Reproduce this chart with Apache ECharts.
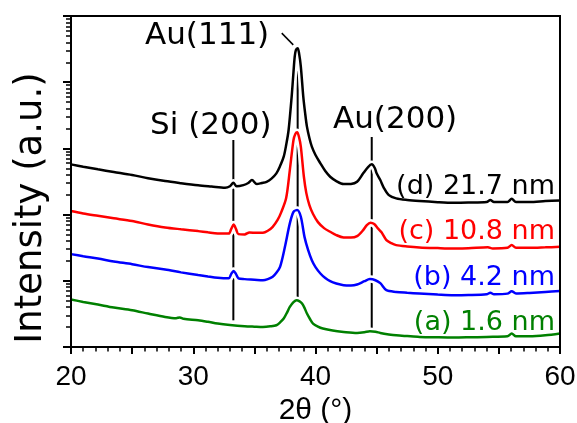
<!DOCTYPE html>
<html><head><meta charset="utf-8">
<script src="https://cdn.jsdelivr.net/npm/echarts@6/dist/echarts.min.js"></script>
<style>html,body{margin:0;padding:0;background:#fff}#c{width:577px;height:423px}</style>
</head><body><div id="c"></div>
<script>
// ---- data (2θ in degrees, intensity in a.u., log scale) ----
const xTickLabels = [20, 30, 40, 50, 60];
const decadeTicks = [1, 10, 100, 1000, 10000, 100000];
const minorMultipliers = [2, 3, 4, 5, 6, 7, 8, 9];
const curveNames = ['(d) 21.7 nm', '(c) 10.8 nm', '(b) 4.2 nm', '(a) 1.6 nm'];
const curveColors = ['#000000', '#ff0000', '#0000ff', '#008000'];

const curveD = [[20.0,574],[21.0,530],[22.2,483],[23.5,440],[25.0,396],[26.3,355],[27.7,321],[29.0,298],[30.4,277],[31.5,265],[32.6,254],[33.0,268],[33.28,303],[33.55,268],[34.1,279],[34.5,300],[34.8,333],[35.2,289],[35.6,300],[36.0,313],[36.4,350],[36.8,420],[37.1,540],[37.4,749],[37.6,1125],[37.8,1897],[38.05,6053],[38.2,14320],[38.3,24380],[38.4,30820],[38.54,32680],[38.65,27750],[38.8,17220],[39.0,6053],[39.15,3433],[39.3,2130],[39.5,1436],[39.7,1061],[40.0,794],[40.4,595],[40.8,455],[41.2,373],[41.7,321],[42.3,289],[42.9,290],[43.4,313],[43.9,420],[44.3,523],[44.6,574],[44.85,506],[45.0,420],[45.3,333],[45.6,252],[46.0,197],[46.6,176],[47.5,166],[48.5,160],[50.0,154],[51.3,151],[52.5,152],[54.0,155],[54.3,166],[54.6,155],[55.7,155],[56.05,173],[56.4,155],[57.5,155],[58.8,160],[60.0,164]];
const curveC = [[20.0,113],[21.0,104],[22.2,95.9],[23.5,88],[25.0,79.8],[26.3,71],[27.7,64.0],[29.0,60],[30.4,56.3],[31.2,54],[32.0,52.0],[32.9,51.7],[33.1,60.4],[33.3,70.6],[33.5,60.4],[33.7,50.7],[34.2,50.2],[34.6,53.8],[35.2,53],[35.7,53.1],[36.1,57],[36.5,65.4],[36.9,83],[37.2,109],[37.6,178],[37.9,471],[38.2,1340],[38.35,1652],[38.5,1753],[38.65,1487],[38.8,1061],[39.05,373],[39.25,211],[39.5,139],[39.8,102],[40.2,77.0],[40.7,62.5],[41.2,55.0],[41.7,49],[42.3,45.2],[42.9,45],[43.4,47.3],[43.9,58.3],[44.2,69.4],[44.5,75.2],[44.8,72],[45.1,62],[45.4,54],[45.8,41.1],[46.2,37],[46.6,34.6],[47.5,33],[48.5,31.9],[50.0,31.2],[51.3,30.8],[52.5,31],[54.1,32.2],[54.5,30.8],[55.7,31.5],[56.05,34.6],[56.4,31.5],[57.5,31.5],[58.8,32],[60.0,32.6]];
const curveB = [[20.0,25.3],[21.0,23.5],[22.2,21.7],[23.5,19.6],[25.0,17.8],[26.3,16.1],[27.7,14.8],[29.0,13.4],[30.4,12.2],[31.2,11.6],[32.0,11.1],[32.9,10.9],[33.1,12.6],[33.3,14.1],[33.5,12.6],[33.7,10.9],[34.2,10.6],[35.0,10.4],[35.7,10.2],[36.1,10.6],[36.5,11.5],[36.8,13.2],[37.1,16.2],[37.5,32.6],[37.9,73.6],[38.2,110],[38.5,117],[38.8,92.7],[39.1,46.1],[39.4,29.0],[39.7,20.5],[40.0,16.1],[40.4,12.9],[40.8,11],[41.2,9.86],[41.7,9.1],[42.3,8.58],[42.9,8.5],[43.4,8.79],[44.0,9.86],[44.45,10.6],[44.9,10.2],[45.3,9.2],[45.8,7.21],[46.6,6.79],[47.5,6.6],[48.5,6.43],[50.0,6.2],[51.3,6.06],[52.5,6.1],[54.0,6.27],[54.3,6.6],[54.6,6.27],[55.7,6.4],[56.05,6.96],[56.4,6.43],[57.5,6.56],[58.8,6.8],[60.0,7.03]];
const curveA = [[20.0,5.21],[21.0,4.8],[22.2,4.38],[23.5,3.95],[25.0,3.59],[26.3,3.2],[27.7,2.84],[28.6,2.72],[28.9,2.80],[29.2,2.67],[30.4,2.53],[31.2,2.4],[32.0,2.26],[33.0,2.15],[34.2,2.06],[35.0,2.03],[35.7,2.01],[36.3,2.05],[36.8,2.13],[37.1,2.35],[37.4,2.69],[37.7,3.4],[37.9,4.03],[38.2,4.75],[38.45,5.09],[38.7,4.9],[38.9,4.54],[39.1,3.9],[39.3,3.20],[39.55,2.65],[39.8,2.26],[40.2,2.03],[40.6,1.90],[41.4,1.77],[42.3,1.69],[43.4,1.63],[44.0,1.67],[44.45,1.73],[44.9,1.7],[45.3,1.63],[46.0,1.55],[46.6,1.50],[47.5,1.46],[48.5,1.42],[50.0,1.40],[51.3,1.39],[52.5,1.40],[54.0,1.42],[55.7,1.45],[56.05,1.60],[56.4,1.45],[57.5,1.45],[58.8,1.5],[60.0,1.60]];
const curves = [curveD, curveC, curveB, curveA];

const peakLabels = ['Si (200)', 'Au(111)', 'Au(200)'];
const refPeaks = [33.28, 38.54, 44.6];
const refTop = [1340, 16450, 1487];
const refBottom = [2.53, 5.65, 1.92];
const au111Leader = [[37.24, 55100], [38.18, 36650]];

// ---- build ----
const minorLogPositions = [];
for (let d = 0; d < 5; d++) for (const k of minorMultipliers) minorLogPositions.push(d + Math.log10(k));
const decadeLogPositions = decadeTicks.map(Math.log10);

const series = [];
refPeaks.forEach((p, i) => {
  series.push({type:'line', yAxisIndex:0, data:[[p, refTop[i]], [p, refBottom[i]]], symbol:'none',
    lineStyle:{color:'#000', width:2}, z:1, silent:true, animation:false});
});
series.push({type:'line', yAxisIndex:0, data:au111Leader, symbol:'none',
  lineStyle:{color:'#000', width:1.5}, z:1, silent:true, animation:false});
curves.forEach((c, i) => {
  series.push({type:'line', yAxisIndex:0, data:c, symbol:'none', smooth:0.3,
    lineStyle:{color:'#ffffff', width:7.5}, z:2, silent:true, animation:false});
});
curves.forEach((c, i) => {
  series.push({type:'line', name:curveNames[i], yAxisIndex:0, data:c, symbol:'none', smooth:0.3,
    lineStyle:{color:curveColors[i], width:2.5}, z:3, silent:true, animation:false});
});

const peakLabelPos = [[150, 125.5], [145, 36], [333, 120]];
const curveLabelY = [186.5, 232, 278, 323];
const graphic = [];
peakLabels.forEach((t, i) => graphic.push({type:'text', x:peakLabelPos[i][0], y:peakLabelPos[i][1], z:20,
  style:{text:t, fontFamily:'DejaVu Sans', fontSize:31, fill:'#000', align:'left', verticalAlign:'middle'}}));
curveNames.forEach((t, i) => graphic.push({type:'text', x:555, y:curveLabelY[i], z:20,
  style:{text:t, fontFamily:'DejaVu Sans', fontSize:27, fill:curveColors[i], align:'right', verticalAlign:'middle'}}));
graphic.push({type:'text', x:31, y:208, rotation:Math.PI/2, z:20,
  style:{text:'Intensity (a.u.)', fontFamily:'DejaVu Sans', fontSize:37, fill:'#000', align:'center', verticalAlign:'middle'}});

const chart = echarts.init(document.getElementById('c'), null, {renderer:'canvas'});
chart.setOption({
  animation:false,
  backgroundColor:'#ffffff',
  grid:{left:71, right:17, top:16, bottom:76, outerBoundsMode:'none', containLabel:false,
    show:true, borderColor:'#000', borderWidth:2, backgroundColor:'transparent', z:10},
  xAxis:{type:'value', min:20, max:60, interval:5, position:'bottom', z:10,
    axisLine:{show:true, onZero:false, lineStyle:{color:'#000', width:2}},
    axisTick:{show:true, inside:false, length:7, lineStyle:{color:'#000', width:2}},
    minorTick:{show:true, splitNumber:5, length:4.5, lineStyle:{color:'#000', width:1.5}},
    axisLabel:{customValues:xTickLabels, fontFamily:'Liberation Sans', fontSize:28, color:'#000', margin:16},
    splitLine:{show:false}, minorSplitLine:{show:false},
    name:'2θ (°)', nameLocation:'middle', nameGap:48,
    nameTextStyle:{fontFamily:'Liberation Sans', fontSize:30, color:'#000'}},
  yAxis:[
    {type:'log', logBase:10, min:1, max:100000, position:'left', z:10,
      axisLine:{show:true, onZero:false, lineStyle:{color:'#000', width:2}},
      axisTick:{show:false}, axisLabel:{show:false}, splitLine:{show:false}},
    {type:'value', min:0, max:5, position:'left', z:10,
      axisLine:{show:false}, axisLabel:{show:false}, splitLine:{show:false},
      axisTick:{show:true, inside:false, length:8, customValues:decadeLogPositions, lineStyle:{color:'#000', width:2}}},
    {type:'value', min:0, max:5, position:'left', z:10,
      axisLine:{show:false}, axisLabel:{show:false}, splitLine:{show:false},
      axisTick:{show:true, inside:false, length:5, customValues:minorLogPositions, lineStyle:{color:'#000', width:1.5}}}
  ],
  series:series,
  graphic:graphic
});
</script></body></html>
